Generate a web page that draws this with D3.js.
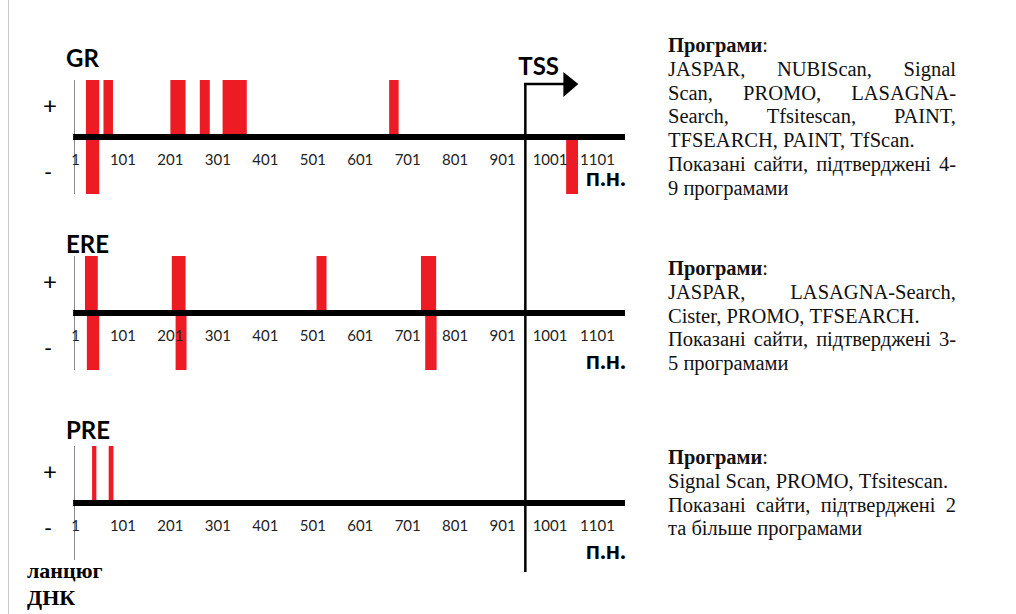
<!DOCTYPE html>
<html>
<head>
<meta charset="utf-8">
<script src="https://cdn.jsdelivr.net/npm/d3@7"></script>
<style>
  html, body { margin: 0; padding: 0; background: #fff; }
  svg { display: block; }
</style>
</head>
<body>
<svg id="chart" width="1016" height="614"></svg>
<script>
// positions on the DNA (bp), each site is [start, end]
const grPlus = [[24, 52], [61, 81], [202, 234], [264, 285], [312, 363], [663, 683]];
const grMinus = [[24, 52], [1036, 1061]];
const erePlus = [[22, 49], [205, 234], [510, 531], [730, 762]];
const ereMinus = [[26, 52], [213, 236], [739, 763]];
const prePlus = [[37, 46], [72, 82]];
const preMinus = [];

const tickValues = [1, 101, 201, 301, 401, 501, 601, 701, 801, 901, 1001, 1101];
const tssPos = 950;
const axisRange = [-3, 1160];

const panelNames = ["GR", "ERE", "PRE"];

// text blocks on the right (one entry per printed line, j = justified)
const grText = [
    { t: "JASPAR, NUBIScan, Signal", j: true },
    { t: "Scan, PROMO, LASAGNA-", j: true },
    { t: "Search, Tfsitescan, PAINT,", j: true },
    { t: "TFSEARCH, PAINT, TfScan.", j: false },
    { t: "Показані сайти, підтверджені 4-", j: true },
    { t: "9 програмами", j: false }
];
const ereText = [
    { t: "JASPAR, LASAGNA-Search,", j: true },
    { t: "Cister, PROMO, TFSEARCH.", j: false },
    { t: "Показані сайти, підтверджені 3-", j: true },
    { t: "5 програмами", j: false }
];
const preText = [
    { t: "Signal Scan, PROMO, Tfsitescan.", j: false },
    { t: "Показані сайти, підтверджені 2", j: true },
    { t: "та більше програмами", j: false }
];

const barColor = "#ed1c24";
const sansFont = "Lato, Calibri, 'DejaVu Sans', sans-serif";
const serifFont = "'Liberation Serif', 'Times New Roman', serif";

const panels = [
    { name: panelNames[0], plus: grPlus, minus: grMinus, axisY: 140, text: grText, textY: 52 },
    { name: panelNames[1], plus: erePlus, minus: ereMinus, axisY: 316, text: ereText, textY: 275 },
    { name: panelNames[2], plus: prePlus, minus: preMinus, axisY: 506, text: preText, textY: 464 }
];

const svg = d3.select("#chart");

// page border on the left
svg.append("line")
    .attr("x1", 8.5).attr("x2", 8.5)
    .attr("y1", 0).attr("y2", 614)
    .attr("stroke", "#c8c8c8")
    .attr("stroke-width", 1);

const x = d3.scaleLinear().domain([1, 1101]).range([75, 597]);

panels.forEach(p => {
    const y = d3.scaleLinear().domain([-1, 1]).range([p.axisY + 54, p.axisY - 60]);
    const g = svg.append("g");

    // thin vertical strand line
    g.append("line")
        .attr("x1", x(1) - 0.5).attr("x2", x(1) - 0.5)
        .attr("y1", y(1)).attr("y2", y(-1))
        .attr("stroke", "#8a8a8a")
        .attr("stroke-width", 1);

    // sites on + strand
    g.selectAll("rect.plus")
        .data(p.plus)
        .enter().append("rect")
        .attr("class", "plus")
        .attr("x", d => x(d[0]))
        .attr("width", d => x(d[1]) - x(d[0]))
        .attr("y", y(1))
        .attr("height", y(0) - y(1))
        .attr("fill", barColor);

    // sites on - strand
    g.selectAll("rect.minus")
        .data(p.minus)
        .enter().append("rect")
        .attr("class", "minus")
        .attr("x", d => x(d[0]))
        .attr("width", d => x(d[1]) - x(d[0]))
        .attr("y", y(0))
        .attr("height", y(-1) - y(0))
        .attr("fill", barColor);

    // the DNA axis
    g.append("line")
        .attr("x1", x(axisRange[0])).attr("x2", x(axisRange[1]))
        .attr("y1", y(0)).attr("y2", y(0))
        .attr("stroke", "#000")
        .attr("stroke-width", 6);

    // tick labels
    const axis = d3.axisBottom(x)
        .tickValues(tickValues)
        .tickFormat(d3.format("d"))
        .tickSize(0)
        .tickPadding(0);
    const ag = g.append("g")
        .attr("transform", `translate(0,${p.axisY + 25})`)
        .call(axis);
    ag.select(".domain").remove();
    ag.selectAll("text")
        .attr("dy", 0)
        .attr("y", 0)
        .attr("fill", "#222")
        .style("font-family", sansFont)
        .style("font-size", "15px");

    // panel title
    g.append("text")
        .attr("x", 66)
        .attr("y", y(1) - (p.name === "GR" ? 13 : (p.name === "ERE" ? 3 : 7)))
        .attr("font-family", sansFont)
        .attr("font-weight", "bold")
        .attr("font-size", 24)
        .attr("fill", "#000")
        .text(p.name);

    // strand signs
    g.append("text")
        .attr("x", 50).attr("y", y(0.55))
        .attr("dy", "0.35em")
        .attr("text-anchor", "middle")
        .attr("font-family", sansFont)
        .attr("font-size", 24)
        .text("+");
    g.append("text")
        .attr("x", 48).attr("y", p.axisY + (p.name === "PRE" ? 22 : 32))
        .attr("dy", "0.35em")
        .attr("text-anchor", "middle")
        .attr("font-family", sansFont)
        .attr("font-size", 22)
        .text("-");

    // units
    g.append("text")
        .attr("x", 626)
        .attr("y", p.axisY + (p.name === "GR" ? 46 : 53))
        .attr("text-anchor", "end")
        .attr("font-family", sansFont)
        .attr("font-weight", "bold")
        .attr("font-size", 25)
        .text("п.н.");

    // right text block
    const tx = 668, tw = 288, lh = 23.8, fs = 20.5;
    const head = svg.append("text")
        .attr("x", tx).attr("y", p.textY)
        .attr("font-family", serifFont)
        .attr("font-size", fs)
        .attr("fill", "#111");
    head.append("tspan").attr("font-weight", "bold").text("Програми");
    head.append("tspan").text(":");

    p.text.forEach((line, i) => {
        const ly = p.textY + lh * (i + 1);
        const words = line.t.split(" ");
        const ws = words.map(w => {
            const el = svg.append("text")
                .attr("y", ly)
                .attr("font-family", serifFont)
                .attr("font-size", fs)
                .attr("fill", "#111")
                .text(w);
            return { el, w: el.node().getComputedTextLength() };
        });
        const total = d3.sum(ws, d => d.w);
        const gap = line.j && ws.length > 1 ? (tw - total) / (ws.length - 1) : fs * 0.25;
        let cx = tx;
        ws.forEach(d => {
            d.el.attr("x", cx);
            cx += d.w + gap;
        });
    });
});

// TSS marker
const tssX = x(tssPos);
svg.append("line")
    .attr("x1", tssX).attr("x2", tssX)
    .attr("y1", 83).attr("y2", 572)
    .attr("stroke", "#000").attr("stroke-width", 2.5);
svg.append("line")
    .attr("x1", tssX - 1.25).attr("x2", tssX + 40)
    .attr("y1", 84).attr("y2", 84)
    .attr("stroke", "#000").attr("stroke-width", 2.5);
svg.append("path")
    .attr("d", d3.line()([[tssX + 38, 72], [tssX + 53, 84], [tssX + 38, 97]]) + "Z")
    .attr("fill", "#000");
svg.append("text")
    .attr("x", tssX - 7).attr("y", 75)
    .attr("font-family", sansFont)
    .attr("font-weight", "bold")
    .attr("font-size", 24)
    .text("TSS");

// strand label
svg.append("text")
    .attr("x", 27).attr("y", 578)
    .attr("font-family", serifFont)
    .attr("font-weight", "bold")
    .attr("font-size", 22)
    .text("ланцюг");
svg.append("text")
    .attr("x", 27).attr("y", 605)
    .attr("font-family", serifFont)
    .attr("font-weight", "bold")
    .attr("font-size", 22)
    .text("ДНК");
</script>
</body>
</html>
